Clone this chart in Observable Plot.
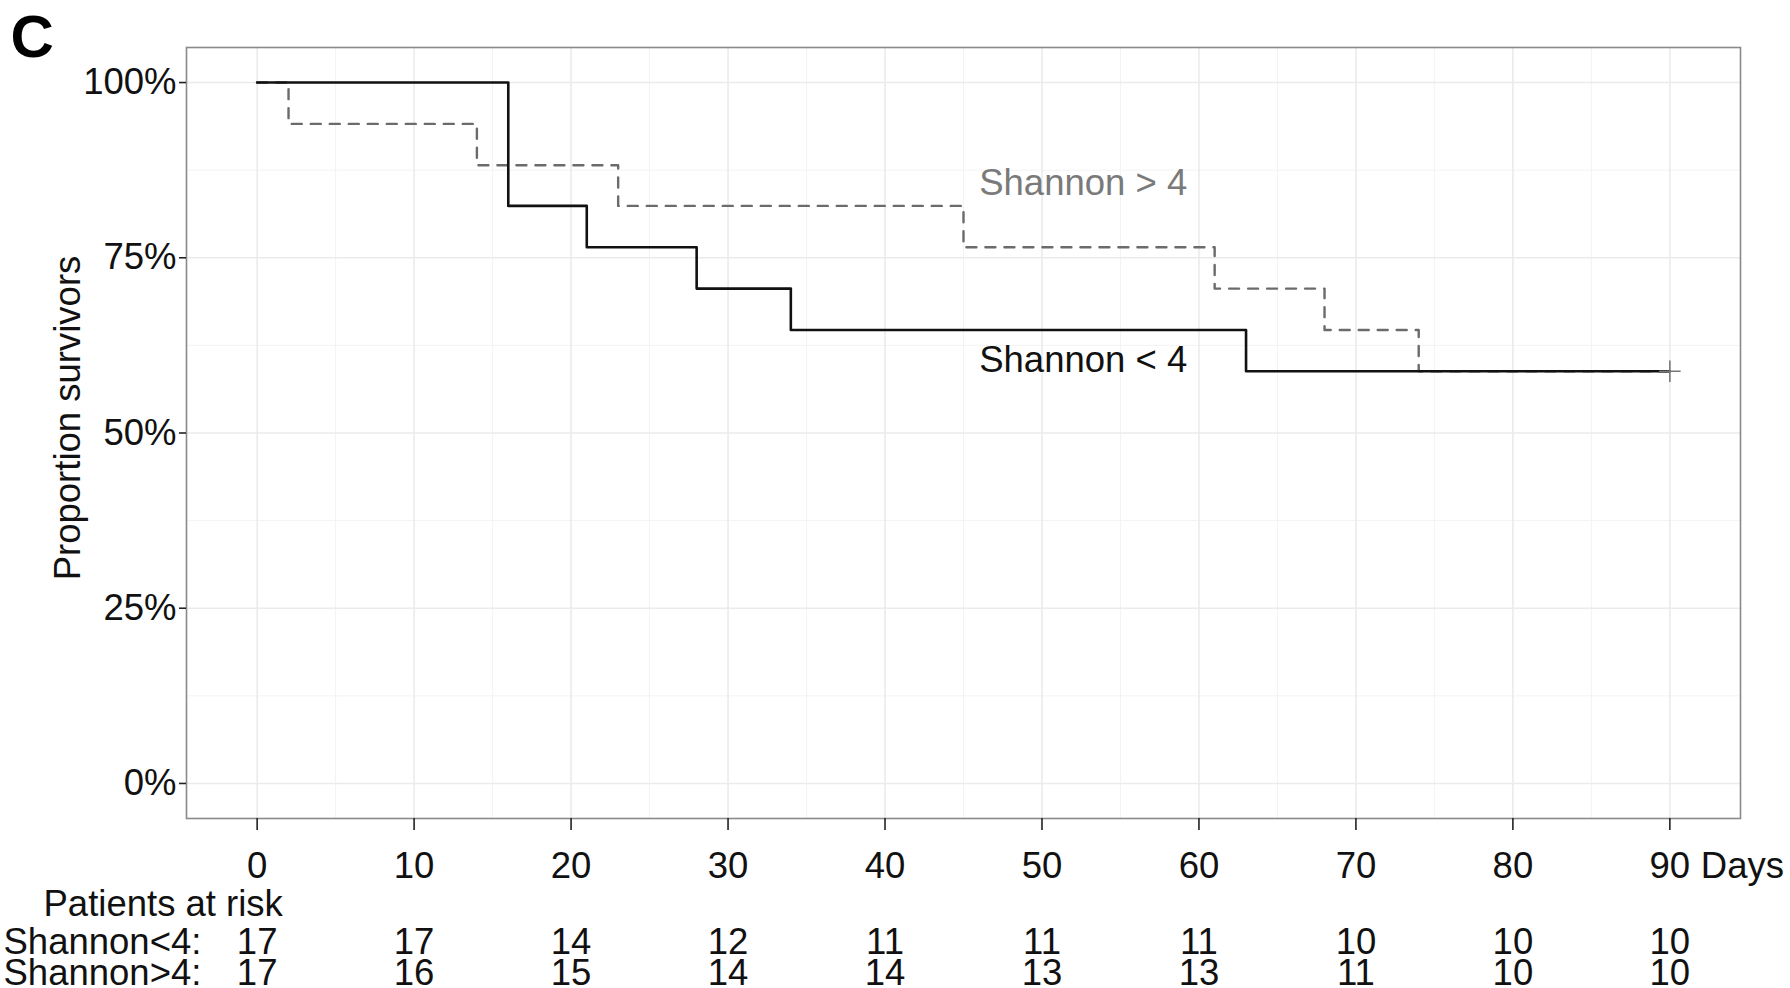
<!DOCTYPE html>
<html>
<head>
<meta charset="utf-8">
<script src="https://cdn.jsdelivr.net/npm/d3@7"></script>
<script src="https://cdn.jsdelivr.net/npm/@observablehq/plot@0.6"></script>
<style>
  html, body { margin: 0; padding: 0; background: #fff; }
  #chart { width: 1790px; height: 988px; }
  svg { font-family: "Liberation Sans", Arial, Helvetica, sans-serif; }
</style>
</head>
<body>
<div id="chart"></div>
<script>
// Kaplan-Meier steps (day, proportion surviving)
const lowDays  = [0, 16, 21, 28, 34, 63, 90];
const lowSurv  = [1.0, 0.824, 0.765, 0.706, 0.647, 0.588, 0.588];
const highDays = [0, 2, 14, 23, 45, 61, 68, 74, 90];
const highSurv = [1.0, 0.941, 0.882, 0.824, 0.765, 0.706, 0.647, 0.588, 0.588];
// censoring mark
const censorDay = [90];
const censorSurv = [0.588];
// axis ticks
const dayTicks = [0, 10, 20, 30, 40, 50, 60, 70, 80, 90];
const dayMinor = [5, 15, 25, 35, 45, 55, 65, 75, 85];
const survTicks = [0, 0.25, 0.5, 0.75, 1];
const survMinor = [0.125, 0.375, 0.625, 0.875];
// patients at risk
const riskLow  = [17, 17, 14, 12, 11, 11, 11, 10, 10, 10];
const riskHigh = [17, 16, 15, 14, 14, 13, 13, 11, 10, 10];
// curve labels
const labelText = ["Shannon > 4", "Shannon < 4"];
const labelDay  = [46.0, 46.0];
const labelSurv = [0.856, 0.603];

const low = lowDays.map((d, i) => ({day: d, s: lowSurv[i]}));
const high = highDays.map((d, i) => ({day: d, s: highSurv[i]}));
const censor = censorDay.map((d, i) => ({day: d, s: censorSurv[i]}));
const rowLow = dayTicks.map((d, i) => ({day: d, n: riskLow[i]}));
const rowHigh = dayTicks.map((d, i) => ({day: d, n: riskHigh[i]}));
const labels = labelText.map((t, i) => ({t, day: labelDay[i], s: labelSurv[i]}));

const FS = 36.5;
const chart = Plot.plot({
  width: 1790,
  height: 988,
  marginLeft: 186,
  marginRight: 50,
  marginTop: 47,
  marginBottom: 170,
  style: {fontFamily: '"Liberation Sans", Arial, Helvetica, sans-serif', background: "#fff", color: "#111"},
  x: {domain: [-4.5, 94.5]},
  y: {domain: [-0.05, 1.05]},
  marks: [
    Plot.gridX(dayMinor, {stroke: "#f3f3f3", strokeOpacity: 1, strokeWidth: 1}),
    Plot.gridY(survMinor, {stroke: "#f3f3f3", strokeOpacity: 1, strokeWidth: 1}),
    Plot.gridX(dayTicks, {stroke: "#ebebeb", strokeOpacity: 1, strokeWidth: 1.6}),
    Plot.gridY(survTicks, {stroke: "#ebebeb", strokeOpacity: 1, strokeWidth: 1.6}),
    Plot.frame({stroke: "#8a8a8a", strokeWidth: 1.6}),
    Plot.axisY({ticks: survTicks, tickFormat: d3.format(".0%"), tickSize: 7, tickPadding: 3,
      fontSize: FS, label: null, stroke: "#222", strokeWidth: 1.6}),
    Plot.axisX({ticks: dayTicks, tickSize: 12, tickPadding: 22, fontSize: FS, label: null,
      stroke: "#222", strokeWidth: 1.6}),
    Plot.line(high, {x: "day", y: "s", curve: "step-after", stroke: "#6b6b6b",
      strokeWidth: 2.4, strokeDasharray: "10,9"}),
    Plot.line(low, {x: "day", y: "s", curve: "step-after", stroke: "#111", strokeWidth: 2.6}),
    Plot.dot(censor, {x: "day", y: "s", symbol: "plus", r: 7, stroke: "#777", strokeWidth: 1.6}),
    Plot.text(labels, {x: "day", y: "s", text: "t", textAnchor: "start", fontSize: FS,
      fill: (d, i) => i === 0 ? "#7a7a7a" : "#111"}),
    // y axis title
    Plot.text(["Proportion survivors"], {frameAnchor: "left", textAnchor: "middle", rotate: -90,
      dx: -118, dy: -15, fontSize: FS, fill: "#111"}),
    // x axis unit
    Plot.text(["Days"], {x: [90], frameAnchor: "bottom", textAnchor: "start", dx: 31, dy: 59,
      fontSize: FS, fill: "#111"}),
    // patients at risk table
    Plot.text(["Patients at risk"], {frameAnchor: "bottom-left", textAnchor: "start", dx: -143, dy: 97,
      fontSize: FS, fill: "#111"}),
    Plot.text(["Shannon<4:"], {frameAnchor: "bottom-left", textAnchor: "start", dx: -183, dy: 135,
      fontSize: FS, fill: "#111"}),
    Plot.text(["Shannon>4:"], {frameAnchor: "bottom-left", textAnchor: "start", dx: -183, dy: 166,
      fontSize: FS, fill: "#111"}),
    Plot.text(rowLow, {x: "day", text: "n", frameAnchor: "bottom", dy: 135, fontSize: FS, fill: "#111"}),
    Plot.text(rowHigh, {x: "day", text: "n", frameAnchor: "bottom", dy: 166, fontSize: FS, fill: "#111"}),
    // panel letter
    Plot.text(["C"], {frameAnchor: "top-left", textAnchor: "start", dx: -176, dy: -33,
      fontSize: 60, fontWeight: "bold", fill: "#000"})
  ]
});
document.getElementById("chart").appendChild(chart);
</script>
</body>
</html>
